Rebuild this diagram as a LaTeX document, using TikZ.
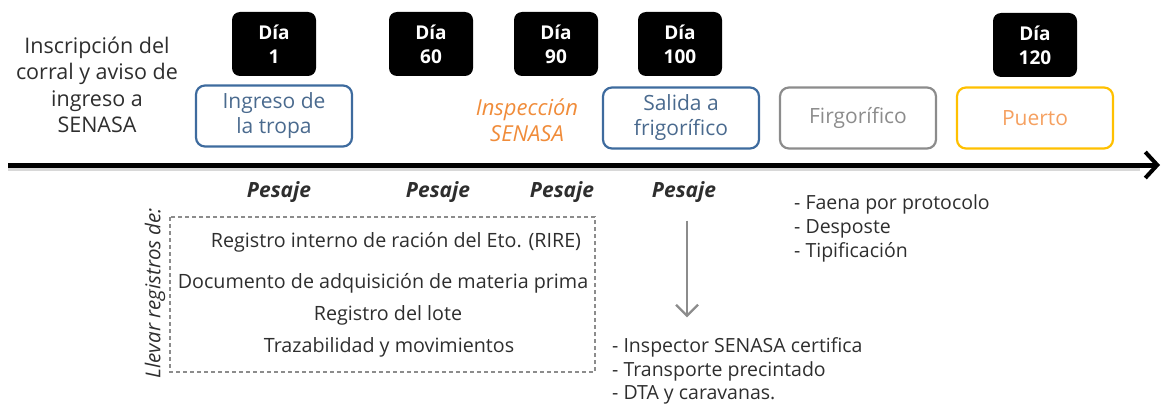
\documentclass[tikz,border=0pt]{standalone}
\usepackage{fontspec}
\setmainfont{Open Sans}
\usetikzlibrary{arrows.meta}
\definecolor{txt}{HTML}{2E2E2E}
\definecolor{bblue}{HTML}{3E6B9E}
\definecolor{tblue}{HTML}{4A6A8E}
\definecolor{orng}{HTML}{F08C3A}
\definecolor{gry}{HTML}{8C8C8C}
\definecolor{gold}{HTML}{FFC000}
\definecolor{porng}{HTML}{F5A060}
\tikzset{
  x=1pt, y=-1pt,
  daybox/.style={fill=black, rounded corners=8pt, minimum width=84pt, minimum height=64pt, text=white, font=\fontsize{19}{24}\selectfont\bfseries, align=center, inner sep=0pt},
  stagebox/.style={draw, line width=2.2pt, rounded corners=9pt, minimum width=156pt, minimum height=61pt, font=\fontsize{21}{25}\selectfont, align=center, inner sep=0pt},
  pes/.style={font=\fontsize{21}{24}\selectfont\bfseries\itshape, text=txt},
  body/.style={font=\fontsize{19.7}{24}\selectfont, text=txt},
  lst/.style={font=\fontsize{19.5}{24}\selectfont, text=txt, anchor=base west, inner sep=0pt},
}
\begin{document}
\begin{tikzpicture}
\useasboundingbox (0,0) rectangle (1162,404);
% left intro text
\node[font=\fontsize{21.5}{26.5}\selectfont, text=txt, align=center] (intro) at (97,85) {Inscripción del\\corral y aviso de\\ingreso a\\SENASA};
% day boxes
\node[daybox] (d1) at (274,44) {Día\\1};
\node[daybox] (d60) at (431,44) {Día\\60};
\node[daybox] (d90) at (556,44) {Día\\90};
\node[daybox] (d100) at (680,44) {Día\\100};
\node[daybox] (d120) at (1035,45) {Día\\120};
% stage boxes
\node[stagebox, draw=bblue, text=tblue] (ing) at (274,116) {Ingreso de\\la tropa};
\node[font=\fontsize{22}{26}\selectfont\itshape, text=orng, align=center] (insp) at (527,120) {Inspección\\SENASA};
\node[stagebox, draw=bblue, text=tblue] (sal) at (681,118) {Salida a\\frigorífico};
\node[stagebox, draw=gry, text=gry] (fri) at (858,118) {Firgorífico};
\node[stagebox, draw=gold, text=porng] (pue) at (1035,118) {Puerto};
% axis
\coordinate (a0) at (8,165);
\coordinate (a1) at (1160,165);
\draw[line width=5pt, black!30, opacity=0.5] (8,168) -- (1140,168);
\draw[line width=5pt, -{Straight Barb[length=12pt, width=26pt, line width=4pt]}] (a0) -- (a1);
% pesaje
\node[pes] (p1) at (279,192) {Pesaje};
\node[pes] (p2) at (438,192) {Pesaje};
\node[pes] (p3) at (562,192) {Pesaje};
\node[pes] (p4) at (684,192) {Pesaje};
% dashed box
\draw[gry, line width=1.2pt, dash pattern=on 4pt off 3pt] (170,217) rectangle (595,372);
\node[font=\fontsize{20.5}{24}\selectfont\itshape, text=txt, rotate=90] (llevar) at (155,293) {Llevar registros de:};
\node[body] (r1) at (396,242) {Registro interno de ración del Eto. (RIRE)};
\node[body] (r2) at (383,283) {Documento de adquisición de materia prima};
\node[body] (r3) at (388,315) {Registro del lote};
\node[body] (r4) at (389,347) {Trazabilidad y movimientos};
% down arrow
\node[inner sep=0pt] (ast) at (687,220) {};
\node[inner sep=0pt] (aen) at (687,318) {};
\draw[gry, line width=2.2pt, -{Straight Barb[length=11pt, width=22pt, line width=2.2pt]}] (ast) -- (aen);
% lists
\node[lst] (l1a) at (612,352) {- Inspector SENASA certifica};
\node[lst] (l1b) at (612,376) {- Transporte precintado};
\node[lst] (l1c) at (612,399) {- DTA y caravanas.};
\node[lst] (l2a) at (794,209) {- Faena por protocolo};
\node[lst] (l2b) at (794,233) {- Desposte};
\node[lst] (l2c) at (794,257) {- Tipificación};
\end{tikzpicture}
\end{document}
